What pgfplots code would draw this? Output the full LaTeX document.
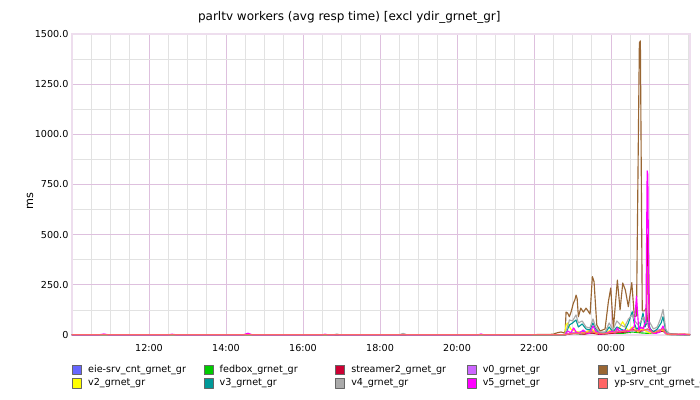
\documentclass[border=0pt]{standalone}
\usepackage{pgfplots}
\pgfplotsset{compat=1.18}
\usepackage{fontspec}
\setmainfont{DejaVu Sans}
\definecolor{ceie}{HTML}{6666FF}
\definecolor{cfed}{HTML}{00CC00}
\definecolor{cstr}{HTML}{CC0033}
\definecolor{cvz}{HTML}{CC66FF}
\definecolor{cvo}{HTML}{996633}
\definecolor{cvt}{HTML}{FFFF00}
\definecolor{cvth}{HTML}{009999}
\definecolor{cvf}{HTML}{AAAAAA}
\definecolor{cvfi}{HTML}{FF00FF}
\definecolor{cyp}{HTML}{FF6666}
\definecolor{gmaj}{RGB}{222,192,222}
\definecolor{gmin}{RGB}{226,226,226}
\definecolor{frame}{RGB}{238,222,238}
\pgfplotsset{legbox/.style={legend image code/.code={\draw[draw=gray!80!black,line width=0.4pt,fill=#1] (0pt,-3.6pt) rectangle (6.75pt,3.7pt);}}}
\begin{document}
\begin{tikzpicture}
\path[use as bounding box] (0,0) rectangle (525pt,300pt);
\node[font=\fontsize{9pt}{11pt}\selectfont] at (262pt,287pt) {parltv workers (avg resp time) [excl ydir\_grnet\_gr]};
\node[rotate=90,font=\fontsize{8.4pt}{10pt}\selectfont] at (22.5pt,149pt) {ms};
\begin{axis}[
  at={(54pt,48.75pt)}, anchor=south west,
  scale only axis, width=463.5pt, height=225.75pt,
  xmin=10, xmax=26.05, ymin=0, ymax=1500,
  xtick={12,14,16,18,20,22,24},
  xticklabels={12:00,14:00,16:00,18:00,20:00,22:00,00:00},
  minor xtick={10.5,11,...,26},
  ytick={0,250,500,750,1000,1250,1500},
  yticklabels={0,250.0,500.0,750.0,1000.0,1250.0,1500.0},
  minor ytick={125,375,625,875,1125,1375},
  major tick length=0pt, minor tick length=0pt,
  xmajorgrids, ymajorgrids, xminorgrids, yminorgrids,
  major grid style={draw=gmaj, line width=0.6pt},
  minor grid style={draw=gmin, line width=0.6pt},
  axis line style={draw=frame, line width=1.2pt},
  tick label style={font=\fontsize{7.2pt}{9pt}\selectfont},
  yticklabel style={inner xsep=2.5pt},
  xticklabel style={yshift=-3.5pt},
  every axis plot/.append style={line width=0.85pt, line join=round},
  legend columns=5,
  legend style={at={(0,-22pt)}, anchor=north west, draw=none, fill=none,
    inner sep=0pt, font=\fontsize{7.2pt}{8.5pt}\selectfont,
    row sep=2.4pt, column sep=0pt, nodes={inner sep=0pt}},
  legend cell align=left,
]
\addplot[ceie, forget plot] coordinates {(10,1)(22.8,1)(23.0,10)(23.2,15)(23.5,20)(23.8,5)(24.0,15)(24.3,20)(24.55,25)(24.75,15)(24.95,30)(25.1,10)(25.35,25)(25.45,3)(26.05,1)};
\addplot[cfed, forget plot] coordinates {(10,1)(22.8,1)(23.0,8)(23.2,5)(23.5,10)(23.8,4)(24.0,10)(24.3,8)(24.55,15)(24.8,10)(25.0,8)(25.35,20)(25.45,2)(26.05,1)};
\addplot[cstr, forget plot] coordinates {(10,1)(22.8,1)(22.9,5)(23.1,8)(23.3,4)(23.5,10)(23.7,3)(24.0,8)(24.2,12)(24.4,15)(24.55,30)(24.65,20)(24.75,15)(24.85,40)(24.925,60)(24.945,500)(24.965,480)(24.995,30)(25.1,10)(25.35,20)(25.45,5)(26.05,1)};
\addplot[cvz, forget plot] coordinates {(10,1)(22.8,1)(23.0,12)(23.2,8)(23.5,25)(23.8,6)(24.0,15)(24.3,25)(24.55,20)(24.8,35)(25.0,15)(25.35,30)(25.45,3)(26.05,1)};
\addplot[cvo, forget plot] coordinates {(10,2)(11,2)(12,2)(13,2)(14,2)(15,2)(16,2)(17,2)(18,2)(19,2)(20,2)(21,2)(22,2)(22.4,3)(22.5,4)(22.55,8)(22.62,12)(22.7,15)(22.78,10)(22.81,20)(22.831,114)(22.87,110)(22.917,91)(22.97,120)(23.021,159)(23.06,175)(23.091,199)(23.12,180)(23.151,91)(23.213,134)(23.281,114)(23.351,134)(23.40,120)(23.455,104)(23.514,291)(23.558,266)(23.629,50)(23.714,20)(23.78,25)(23.844,30)(23.930,166)(23.992,234)(24.03,120)(24.060,30)(24.11,150)(24.164,274)(24.234,125)(24.304,259)(24.371,224)(24.449,141)(24.538,261)(24.605,91)(24.66,95)(24.735,1455)(24.761,1466)(24.81,120)(24.87,120)(24.909,133)(24.969,40)(25.065,20)(25.169,15)(25.273,20)(25.377,30)(25.481,10)(25.584,5)(25.792,3)(26.052,3)};
\addplot[cvt, forget plot] coordinates {(10,1)(22.8,1)(22.83,50)(22.88,60)(22.95,30)(23.05,20)(23.15,15)(23.3,10)(23.5,30)(23.6,10)(23.8,8)(24.0,25)(24.08,20)(24.2,30)(24.3,66)(24.38,40)(24.45,20)(24.55,40)(24.62,35)(24.7,15)(24.8,30)(24.9,20)(25.0,10)(25.35,25)(25.45,3)(26.05,1)};
\addplot[cvth, forget plot] coordinates {(10,1)(22.8,1)(22.85,20)(22.92,50)(23.0,60)(23.09,75)(23.15,40)(23.25,55)(23.35,30)(23.45,25)(23.53,60)(23.6,30)(23.7,10)(23.85,10)(23.95,40)(24.05,15)(24.15,40)(24.25,30)(24.35,20)(24.45,60)(24.55,116)(24.6,60)(24.66,30)(24.75,40)(24.83,110)(24.88,40)(24.95,70)(25.02,30)(25.1,15)(25.2,30)(25.3,60)(25.35,91)(25.42,20)(25.5,3)(26.05,1)};
\addplot[cvf, forget plot] coordinates {(10,1)(16.8,1)(16.88,5)(16.95,1)(18.5,1)(18.6,8)(18.7,1)(22.8,2)(22.85,30)(22.92,75)(23.0,70)(23.09,100)(23.15,60)(23.25,70)(23.35,40)(23.45,35)(23.53,80)(23.6,40)(23.7,15)(23.85,15)(23.95,60)(24.05,25)(24.15,70)(24.25,50)(24.35,40)(24.45,80)(24.55,100)(24.62,70)(24.7,50)(24.78,70)(24.85,90)(24.92,60)(25.0,65)(25.1,30)(25.2,40)(25.3,90)(25.35,128)(25.42,30)(25.5,5)(26.05,1)};
\addplot[cvfi, forget plot] coordinates {(10,1)(10.7,1)(10.83,5)(10.95,1)(12.5,1)(12.6,4)(12.7,1)(14.45,1)(14.57,9)(14.68,1)(16.5,1)(16.57,4)(16.65,1)(20.55,1)(20.62,5)(20.7,1)(22.8,2)(22.88,20)(22.95,10)(23.03,35)(23.09,15)(23.17,8)(23.28,25)(23.35,10)(23.45,8)(23.53,45)(23.6,20)(23.7,5)(23.85,8)(23.95,15)(24.03,20)(24.1,10)(24.16,35)(24.23,15)(24.30,20)(24.37,25)(24.45,15)(24.54,30)(24.60,40)(24.66,194)(24.72,20)(24.77,40)(24.83,30)(24.88,60)(24.905,60)(24.937,818)(24.955,800)(24.985,40)(25.07,10)(25.17,8)(25.27,15)(25.35,45)(25.40,10)(25.5,3)(25.8,2)(26.05,2)};
\addplot[cyp, forget plot] coordinates {(10,2)(22.8,2)(23.0,8)(23.3,10)(23.5,15)(23.8,6)(24.0,12)(24.3,18)(24.55,25)(24.8,20)(24.95,30)(25.1,10)(25.35,30)(25.45,4)(25.6,3)(25.9,6)(26.05,2)};
\addlegendimage{legbox=ceie}\addlegendentry{\makebox[91.5pt][l]{\hspace{4.8pt}eie-srv\_cnt\_grnet\_gr}}
\addlegendimage{legbox=cfed}\addlegendentry{\makebox[91.5pt][l]{\hspace{4.8pt}fedbox\_grnet\_gr}}
\addlegendimage{legbox=cstr}\addlegendentry{\makebox[91.5pt][l]{\hspace{4.8pt}streamer2\_grnet\_gr}}
\addlegendimage{legbox=cvz}\addlegendentry{\makebox[91.5pt][l]{\hspace{4.8pt}v0\_grnet\_gr}}
\addlegendimage{legbox=cvo}\addlegendentry{\makebox[91.5pt][l]{\hspace{4.8pt}v1\_grnet\_gr}}
\addlegendimage{legbox=cvt}\addlegendentry{\makebox[91.5pt][l]{\hspace{4.8pt}v2\_grnet\_gr}}
\addlegendimage{legbox=cvth}\addlegendentry{\makebox[91.5pt][l]{\hspace{4.8pt}v3\_grnet\_gr}}
\addlegendimage{legbox=cvf}\addlegendentry{\makebox[91.5pt][l]{\hspace{4.8pt}v4\_grnet\_gr}}
\addlegendimage{legbox=cvfi}\addlegendentry{\makebox[91.5pt][l]{\hspace{4.8pt}v5\_grnet\_gr}}
\addlegendimage{legbox=cyp}\addlegendentry{\makebox[91.5pt][l]{\hspace{4.8pt}yp-srv\_cnt\_grnet\_gr}}
\end{axis}
\end{tikzpicture}
\end{document}
